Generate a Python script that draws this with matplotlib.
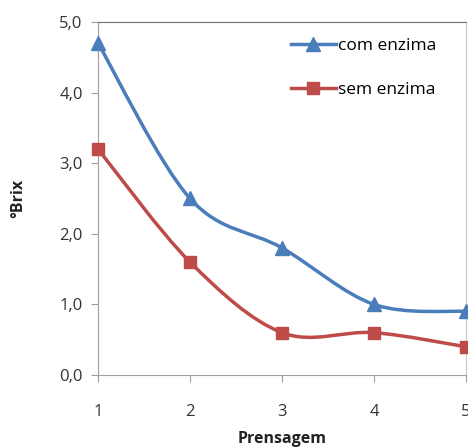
import matplotlib
matplotlib.use('Agg')
import matplotlib.pyplot as plt
from matplotlib.path import Path
from matplotlib.patches import PathPatch
from matplotlib.ticker import FuncFormatter

plt.rcParams['font.family'] = ['Open Sans', 'DejaVu Sans']

prensagem = [1, 2, 3, 4, 5]
com_enzima = [4.7, 2.5, 1.8, 1.0, 0.9]
sem_enzima = [3.2, 1.6, 0.6, 0.6, 0.4]

blue = '#4A7EBB'
red = '#BE4B48'


def smooth_path(xs, ys):
    # Excel-style smoothed line: cubic Bezier through each pair of points
    pts = list(zip(xs, ys))
    verts = [pts[0]]
    codes = [Path.MOVETO]
    n = len(pts)
    for i in range(n - 1):
        p0 = pts[i - 1] if i > 0 else pts[i]
        p1 = pts[i]
        p2 = pts[i + 1]
        p3 = pts[i + 2] if i + 2 < n else pts[i + 1]
        c1 = (p1[0] + (p2[0] - p0[0]) / 6, p1[1] + (p2[1] - p0[1]) / 6)
        c2 = (p2[0] - (p3[0] - p1[0]) / 6, p2[1] - (p3[1] - p1[1]) / 6)
        verts += [c1, c2, p2]
        codes += [Path.CURVE4] * 3
    return Path(verts, codes)


fig = plt.figure(figsize=(4.68, 4.47), dpi=100)
ax = fig.add_axes([98 / 468, 72 / 447, 368 / 468, 353 / 447])

for ys, col, mk, ms, lab in [(com_enzima, blue, '^', 10, 'com enzima'),
                             (sem_enzima, red, 's', 9, 'sem enzima')]:
    ax.add_patch(PathPatch(smooth_path(prensagem, ys), facecolor='none',
                           edgecolor=col, lw=2.5, clip_on=False, zorder=3))
    ax.plot(prensagem, ys, ls='none', marker=mk, ms=ms, color=col,
            clip_on=False, zorder=4)
    ax.plot([], [], color=col, lw=2.5, marker=mk, ms=ms, label=lab)

ax.set_xlim(1, 5)
ax.set_ylim(0, 5)
ax.set_xticks(prensagem)
ax.set_yticks([0, 1, 2, 3, 4, 5])
ax.yaxis.set_major_formatter(FuncFormatter(lambda v, p: f'{v:.1f}'.replace('.', ',')))

for s in ['left', 'bottom']:
    ax.spines[s].set_color('#A0A0A0')
ax.spines['top'].set_color('#707070')
ax.spines['right'].set_color('#C8C8C8')
ax.tick_params(axis='both', direction='out', length=5, color='#A0A0A0',
               labelsize=12, labelcolor='#333333')
ax.tick_params(axis='x', pad=16)
ax.tick_params(axis='y', pad=6)

ax.set_ylabel('°Brix', fontsize=11.5, fontweight='bold', labelpad=24, color='#222222')
ax.set_xlabel('Prensagem', fontsize=11.5, fontweight='bold', labelpad=8, color='#222222')

ax.legend(loc='upper left', frameon=False, fontsize=12.5, handlelength=2.6,
          handletextpad=0.1, labelspacing=1.6, borderaxespad=0,
          bbox_to_anchor=(0.505, 0.975))

plt.savefig('out.png', dpi=100)
